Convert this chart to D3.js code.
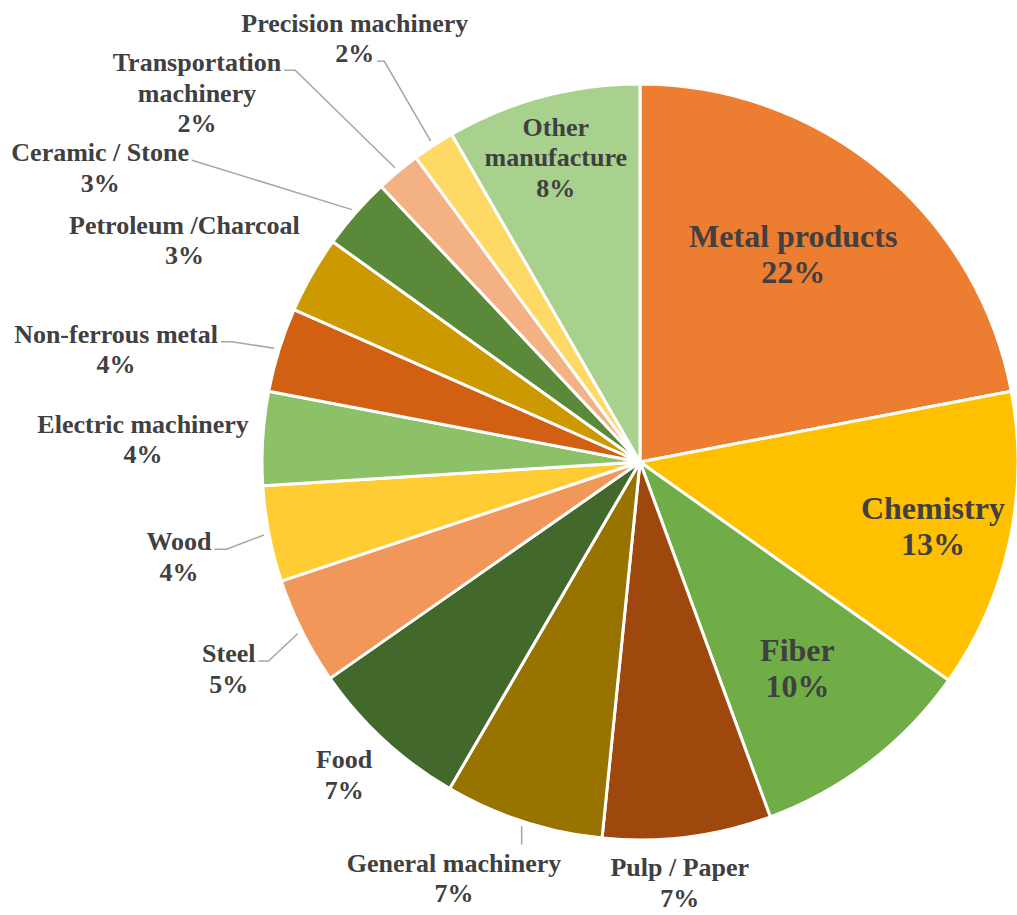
<!DOCTYPE html>
<html lang="en">
<head>
<meta charset="utf-8">
<title>Share of establishments by industry</title>
<script src="https://cdn.jsdelivr.net/npm/d3@7"></script>
<style>
  body { margin: 0; background: #fff; }
  svg text { font-family: "Times New Roman", "Liberation Serif", Tinos, Times, "DejaVu Serif", serif; font-weight: bold; fill: #404040; }
</style>
</head>
<body>
<script>

//Width and height
var w = 1017;
var h = 915;
var cx = 640, cy = 462, radius = 378;

//Categories, clockwise from 12 o'clock
var categories = [
    "Metal products", "Chemistry", "Fiber", "Pulp / Paper", "General machinery",
    "Food", "Steel", "Wood", "Electric machinery", "Non-ferrous metal",
    "Petroleum /Charcoal", "Ceramic / Stone", "Transportation machinery",
    "Precision machinery", "Other manufacture"
];

//Share of each category (%)
var shares = [22.0, 12.8, 9.6, 7.2, 6.8, 6.9, 4.6, 4.1, 4.0, 3.6, 3.3, 3.1, 1.9, 1.8, 8.3];

//Slice colours
var colors = [
    "#ED7D31", "#FFC000", "#70AD47", "#9E480E", "#997300",
    "#43682B", "#F1975A", "#FFCD33", "#8CC168", "#D26012",
    "#CC9A00", "#5A8A39", "#F4B183", "#FFD966", "#A9D18E"
];

//Label placement: angle nudge (deg) from slice middle, distance as share of radius
var labelLayout = [
    { da: -3.2, k: 0.683, big: true },
    { da: 0,    k: 0.793, big: true },
    { da: 0,    k: 0.685, big: true },
    { da: 1.8,  k: 1.117 },
    { da: 6.1,  k: 1.205, lead: { side: "top" } },
    { da: 0.8,  k: 1.138 },
    { da: 0,    k: 1.217, lead: { side: "right", line: 0, stub: 10 } },
    { da: -0.6, k: 1.245, lead: { side: "right", line: 0, stub: 12 } },
    { da: -0.95, k: 1.316 },
    { da: -5.1, k: 1.418, lead: { side: "right", line: 0, stub: 11 } },
    { da: -3.7, k: 1.341 },
    { da: -12.6, k: 1.627, lead: { side: "right", line: 0, stub: 0 } },
    { da: -10.4, k: 1.526, wrap: true, lead: { side: "right", line: 0, stub: 11 } },
    { da: -0.8, k: 1.352, lead: { side: "right", line: 1, stub: 7 } },
    { da: -0.5, k: 0.837, wrap: true }
];

var dataset = categories.map(function(c, i) {
    return { name: c, value: shares[i], color: colors[i] };
});

var svg = d3.select("body")
            .append("svg")
            .attr("width", w)
            .attr("height", h);

var g = svg.append("g")
           .attr("transform", "translate(" + cx + "," + cy + ")");

var pie = d3.pie()
            .sort(null)
            .value(function(d) { return d.value; });

var arc = d3.arc()
            .innerRadius(0)
            .outerRadius(radius);

var arcs = pie(dataset);

//Slices
g.selectAll("path.slice")
    .data(arcs)
    .enter()
    .append("path")
    .attr("class", "slice")
    .attr("d", arc)
    .attr("fill", function(d) { return d.data.color; })
    .attr("stroke", "#fff")
    .attr("stroke-width", 3)
    .attr("stroke-linejoin", "round");

//Labels and leader lines
var line = d3.line();

arcs.forEach(function(a, i) {
    var L = labelLayout[i];
    var mid = (a.startAngle + a.endAngle) / 2;
    var ang = mid + L.da * Math.PI / 180;
    var lr = L.k * radius;
    var x = lr * Math.sin(ang);
    var y = -lr * Math.cos(ang);
    var fs = L.big ? 32 : 26;
    var lh = L.big ? 36 : 30.5;

    var lines = (L.wrap ? a.data.name.split(" ") : [a.data.name])
                    .concat([Math.round(a.data.value) + "%"]);
    var y0 = y - (lines.length - 1) * lh / 2 + 0.35 * fs;

    var t = g.append("text")
             .attr("text-anchor", "middle")
             .style("font-size", fs + "px");

    var spans = lines.map(function(s, j) {
        return t.append("tspan")
                .attr("x", x)
                .attr("y", y0 + j * lh)
                .text(s);
    });

    if (L.lead) {
        var er = radius + 5;
        var ex = er * Math.sin(mid), ey = -er * Math.cos(mid);
        var pts;
        if (L.lead.side == "top") {
            pts = [[ex, ey], [ex, y0 - fs - 1]];
        } else {
            var sw = spans[L.lead.line].node().getComputedTextLength();
            var sx = x + sw / 2 + 3;
            var sy = y0 + L.lead.line * lh - 1;
            pts = [[sx, sy], [sx + L.lead.stub, sy], [ex, ey]];
        }
        g.insert("path", "text")
            .attr("d", line(pts))
            .attr("fill", "none")
            .attr("stroke", "#A6A6A6")
            .attr("stroke-width", 1.5);
    }
});

</script>
</body>
</html>
